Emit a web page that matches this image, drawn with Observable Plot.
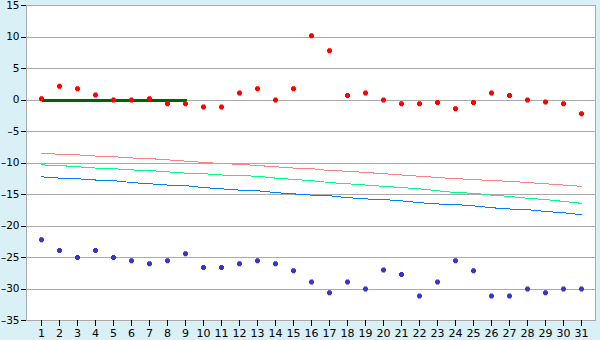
<!DOCTYPE html>
<html><head><meta charset="utf-8">
<script src="https://cdn.jsdelivr.net/npm/d3@7"></script>
<script src="https://cdn.jsdelivr.net/npm/@observablehq/plot@0.6"></script>
<style>
html,body{margin:0;padding:0;background:#d9f0f7;}
#chart svg{display:block;}
</style>
</head><body><div id="chart"></div>
<script>
const days = [1,2,3,4,5,6,7,8,9,10,11,12,13,14,15,16,17,18,19,20,21,22,23,24,25,26,27,28,29,30,31];
const yTicks = [15,10,5,0,-5,-10,-15,-20,-25,-30,-35];
const redValues = [0.2,2.2,1.8,0.8,0,0,0.2,-0.6,-0.6,-1.1,-1.1,1.1,1.8,0,1.8,10.2,7.8,0.7,1.1,0,-0.6,-0.6,-0.4,-1.4,-0.4,1.1,0.7,0,-0.3,-0.6,-2.2];
const blueValues = [-22.2,-23.9,-25,-23.9,-25,-25.5,-26,-25.5,-24.4,-26.6,-26.6,-26,-25.5,-26,-27.1,-28.9,-30.6,-28.9,-30,-27,-27.7,-31.1,-28.9,-25.5,-27.1,-31.1,-31.1,-30,-30.6,-30,-30];
const pinkLine = [-8.5,-8.6,-8.7,-8.9,-9.0,-9.2,-9.3,-9.5,-9.7,-9.9,-10.1,-10.2,-10.4,-10.6,-10.8,-10.9,-11.2,-11.3,-11.5,-11.7,-11.9,-12.1,-12.3,-12.5,-12.6,-12.8,-12.9,-13.1,-13.3,-13.5,-13.7];
const greenLine = [-10.3,-10.4,-10.6,-10.8,-10.9,-11.1,-11.2,-11.4,-11.6,-11.7,-11.9,-12.0,-12.1,-12.4,-12.6,-12.8,-13.1,-13.3,-13.5,-13.7,-13.9,-14.1,-14.4,-14.7,-14.8,-15.1,-15.3,-15.6,-15.8,-16.1,-16.4];
const blueLine = [-12.2,-12.4,-12.5,-12.7,-12.8,-13.1,-13.3,-13.5,-13.6,-13.9,-14.1,-14.3,-14.4,-14.7,-14.9,-15.1,-15.2,-15.5,-15.7,-15.8,-16.0,-16.3,-16.5,-16.6,-16.8,-17.1,-17.3,-17.4,-17.7,-17.9,-18.2];
const baseDays = [1,2,3,4,5,6,7,8,9];
const baseValues = [0,0,0,0,0,0,0,0,0];

const pts = (vals, xs = days) => xs.map((d, i) => ({day: d, v: vals[i]}));

// small chunky plus marker (3px arms, 5px span)
const chunkyPlus = {
  draw(ctx) {
    const a = 1.5, b = 2.5;
    ctx.moveTo(-a, -b); ctx.lineTo(a, -b); ctx.lineTo(a, -a); ctx.lineTo(b, -a);
    ctx.lineTo(b, a); ctx.lineTo(a, a); ctx.lineTo(a, b); ctx.lineTo(-a, b);
    ctx.lineTo(-a, a); ctx.lineTo(-b, a); ctx.lineTo(-b, -a); ctx.lineTo(-a, -a);
    ctx.closePath();
  }
};
const fmt = d => (d < 0 ? "\u2013" : "") + Math.abs(d);

const chart = Plot.plot({
  width: 600,
  height: 340,
  marginLeft: 26,
  marginRight: 5,
  marginTop: 5,
  marginBottom: 20,
  style: {background: "transparent", fontFamily: "DejaVu Sans, Verdana, sans-serif", fontSize: "10.5px", color: "black"},
  x: {type: "point", domain: days, padding: 0.5, label: null},
  y: {domain: [-35, 15], label: null},
  marks: [
    Plot.frame({fill: "white", stroke: "none"}),
    Plot.ruleY(yTicks, {stroke: "#aaaaaa", strokeWidth: 1, shapeRendering: "crispEdges"}),
    Plot.frame({stroke: "#aaaaaa", strokeWidth: 1, shapeRendering: "crispEdges"}),
    Plot.axisY({ticks: yTicks, tickSize: 5, tickPadding: 2, tickFormat: fmt, label: null, shapeRendering: "crispEdges"}),
    Plot.axisX({ticks: days, tickSize: 6, tickPadding: 3, fontSize: 11, label: null, shapeRendering: "crispEdges"}),
    Plot.lineY(pts(pinkLine), {x: "day", y: "v", stroke: "#ff8080", strokeWidth: 1, shapeRendering: "crispEdges"}),
    Plot.lineY(pts(greenLine), {x: "day", y: "v", stroke: "#00ff80", strokeWidth: 1, shapeRendering: "crispEdges"}),
    Plot.lineY(pts(blueLine), {x: "day", y: "v", stroke: "#0080ff", strokeWidth: 1, shapeRendering: "crispEdges"}),
    Plot.lineY(pts(baseValues, baseDays), {x: "day", y: "v", stroke: "#006400", strokeWidth: 3, shapeRendering: "crispEdges"}),
    Plot.dot(pts(redValues), {x: "day", y: "v", symbol: chunkyPlus, fill: "#ff0000", stroke: "none"}),
    Plot.dot(pts(blueValues), {x: "day", y: "v", symbol: chunkyPlus, fill: "#3636c8", stroke: "none"})
  ]
});
document.getElementById("chart").append(chart);
</script>
</body></html>
